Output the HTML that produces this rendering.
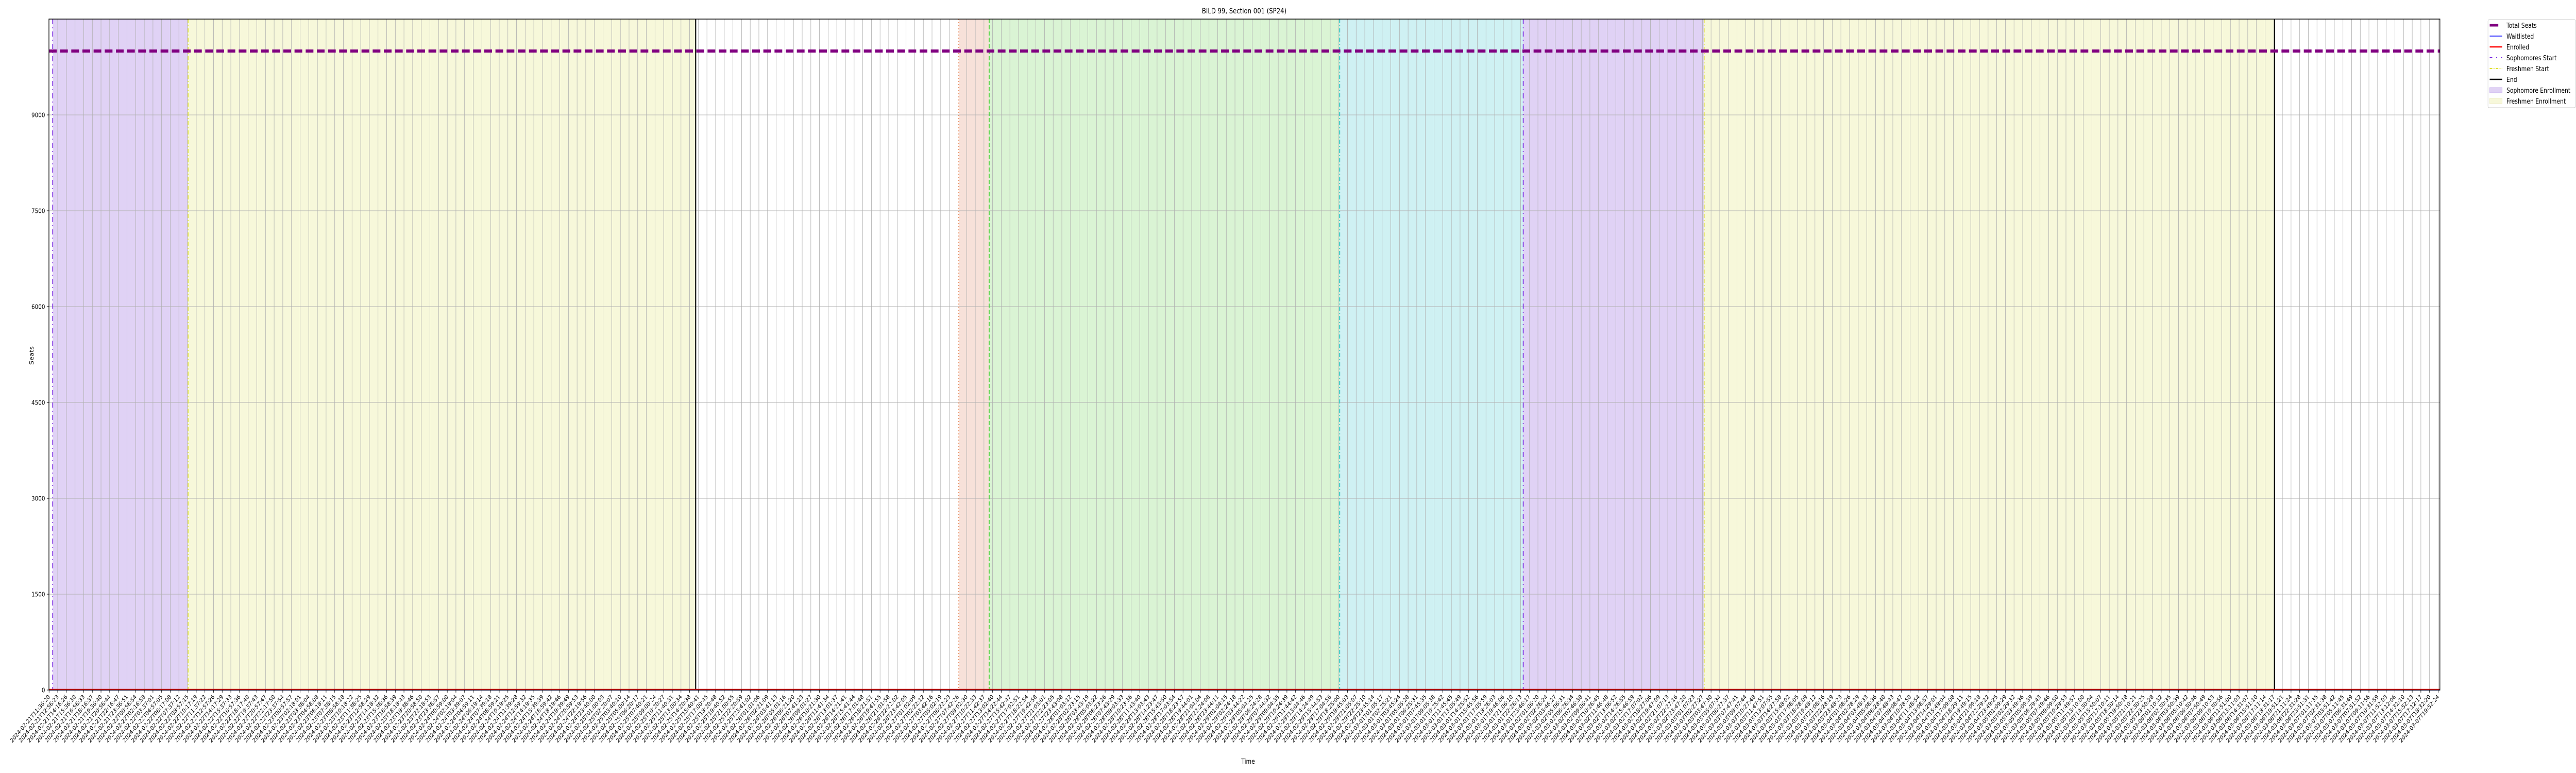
<!DOCTYPE html>
<html><head><meta charset="utf-8"><style>
html,body{margin:0;padding:0;background:#fff;width:100%;height:100%;overflow:hidden;}
svg{display:block;width:100vw;height:100vh;overflow:hidden;font-family:"DejaVu Sans","Liberation Sans",sans-serif;}
</style></head><body>
<svg id="chart" viewBox="0 0 6000 1500" preserveAspectRatio="none" xmlns="http://www.w3.org/2000/svg">
<text x="2898" y="26" font-size="14" text-anchor="middle">BILD 99, Section 001 (SP24)</text>
<text x="2907" y="1482" font-size="13" text-anchor="middle">Time</text>
<text x="0" y="0" font-size="13" text-anchor="middle" transform="translate(78,690) rotate(-90)">Seats</text>
<g id="spans"></g><g id="grid"></g><g id="series"></g><g id="axes"></g><g id="legend"></g>
</svg>
<script>
const tickCount = 277;
const startTime = Date.UTC(2024,1,21,11,36,20);
const endTime = Date.UTC(2024,2,7,19,52,24);
const yTicks = [0,1500,3000,4500,6000,7500,9000];
const totalSeats = [10000];
const enrolled = [0];
const waitlisted = [0];
const spanStarts = [0.42,16.06,105.1,108.6,149.1,170.3,191.2];
const spanEnds = [16.06,74.7,108.6,149.1,170.3,191.2,257.1];
const spanKinds = ['soph','fresh','orange','green','cyan','soph','fresh'];
const eventPos = [0.42,16.06,74.7,105.1,108.6,149.1,170.3,191.2,257.1];
const eventKinds = ['soph','fresh','end','orange','green','cyan','soph','fresh','end'];

const L=114,R=5683,T=37,B=1339,X0=114.3,DX=(5679-114.3)/(tickCount-1),YMAX=10500;
const x=i=>X0+i*DX, y=v=>B-(v/YMAX)*(B-T);
const NS='http://www.w3.org/2000/svg';
function mk(p,tag,a){const e=document.createElementNS(NS,tag);for(const k in a)e.setAttribute(k,a[k]);p.appendChild(e);return e;}
const fills={soph:'#e0d2f5',fresh:'#f7f8da',orange:'#f7e1d9',green:'#daf4d4',cyan:'#cff1f3'};
const lines={soph:['#7a2be2','10,6,2,6',2],fresh:['#e0e030','8,4,2,4',2],orange:['#e8743b','2,4',2],green:['#33cc22','8,4',2],cyan:['#19c5c9','8,4,2,4',2],end:['#000','',2.5]};
const gS=document.getElementById('spans');
spanStarts.forEach((s,k)=>{
  const r=mk(gS,'rect',{x:x(s),y:T,width:x(spanEnds[k])-x(s),height:B-T,fill:fills[spanKinds[k]]});
  
  
});
const gG=document.getElementById('grid'), gA=document.getElementById('axes');
function fmt(t){const d=new Date(t),p=n=>String(n).padStart(2,'0');return d.getUTCFullYear()+'-'+p(d.getUTCMonth()+1)+'-'+p(d.getUTCDate())+'T'+p(d.getUTCHours())+':'+p(d.getUTCMinutes())+':'+p(d.getUTCSeconds());}
for(let i=0;i<tickCount;i++){
  const xx=x(i);
  const g=mk(gG,'line',{x1:xx,x2:xx,y1:T,y2:B,stroke:'#b0b0b0','stroke-width':1});
  
  
  mk(gA,'line',{x1:xx,x2:xx,y1:B,y2:B+5,stroke:'#000','stroke-width':1});
  const lbl=mk(gA,'text',{x:xx+3,y:B+14,'font-size':11.5,'text-anchor':'end',transform:`rotate(-45 ${xx+3} ${B+14})`});
  lbl.textContent=fmt(startTime+(endTime-startTime)*i/(tickCount-1));
  
  
}
yTicks.forEach(v=>{
  const yy=y(v);
  const g=mk(gG,'line',{x1:L,x2:R,y1:yy,y2:yy,stroke:'#b0b0b0','stroke-width':1});
  
  
  mk(gA,'line',{x1:L-5,x2:L,y1:yy,y2:yy,stroke:'#000','stroke-width':1});
  const t=mk(gA,'text',{x:L-9,y:yy+4.5,'font-size':12.5,'text-anchor':'end'});
  t.textContent=v;
  
  
});
const gSe=document.getElementById('series');
eventPos.forEach((p,k)=>{
  const st=lines[eventKinds[k]];
  const l=mk(gSe,'line',{x1:x(p),x2:x(p),y1:T,y2:B,stroke:st[0],'stroke-width':st[2],'stroke-dasharray':st[1]});
  
  
});
const ts=mk(gSe,'line',{x1:L,x2:R,y1:y(totalSeats[0]),y2:y(totalSeats[0]),stroke:'#800080','stroke-width':6,'stroke-dasharray':'18,8'});


const wl=mk(gSe,'line',{x1:L,x2:R,y1:y(waitlisted[0]),y2:y(waitlisted[0]),stroke:'#0000ff','stroke-width':1.5});


const en=mk(gSe,'line',{x1:L,x2:R,y1:y(enrolled[0])-1,y2:y(enrolled[0])-1,stroke:'#ff0000','stroke-width':2.5});


const fr=mk(gA,'rect',{x:L,y:T,width:R-L,height:B-T,fill:'none',stroke:'#000','stroke-width':1.5});


// legend
const gL=document.getElementById('legend');
const lb=mk(gL,'rect',{x:5795,y:38,width:204,height:171,rx:3,fill:'#fff',stroke:'#ccc','stroke-width':1});


const items=[['Total Seats','line','#800080',5,''],['Waitlisted','line','#0000ff',1.5,''],['Enrolled','line','#ff0000',2.5,''],['Sophomores Start','line','#7a2be2',2,'6,9,2,9'],['Freshmen Start','line','#e0e030',2,'6,3,2,3'],['End','line','#000',2.5,''],['Sophomore Enrollment','patch','#e0d2f5'],['Freshmen Enrollment','patch','#f7f8da']];
items.forEach((it,k)=>{
  const yy=49+k*21;
  if(it[1]==='line'){mk(gL,'line',{x1:5799,x2:it[0]==='Total Seats'?5819:5828,y1:yy,y2:yy,stroke:it[2],'stroke-width':it[3],'stroke-dasharray':it[4]});}
  else{mk(gL,'rect',{x:5799,y:yy-5,width:29,height:10,fill:it[2],stroke:it[0][0]==='S'?'#cbb6ee':'#ececc4'});}
  const t=mk(gL,'text',{x:5838,y:yy+5,'font-size':13});
  t.textContent=it[0];
  
  
});
</script>
</body></html>
